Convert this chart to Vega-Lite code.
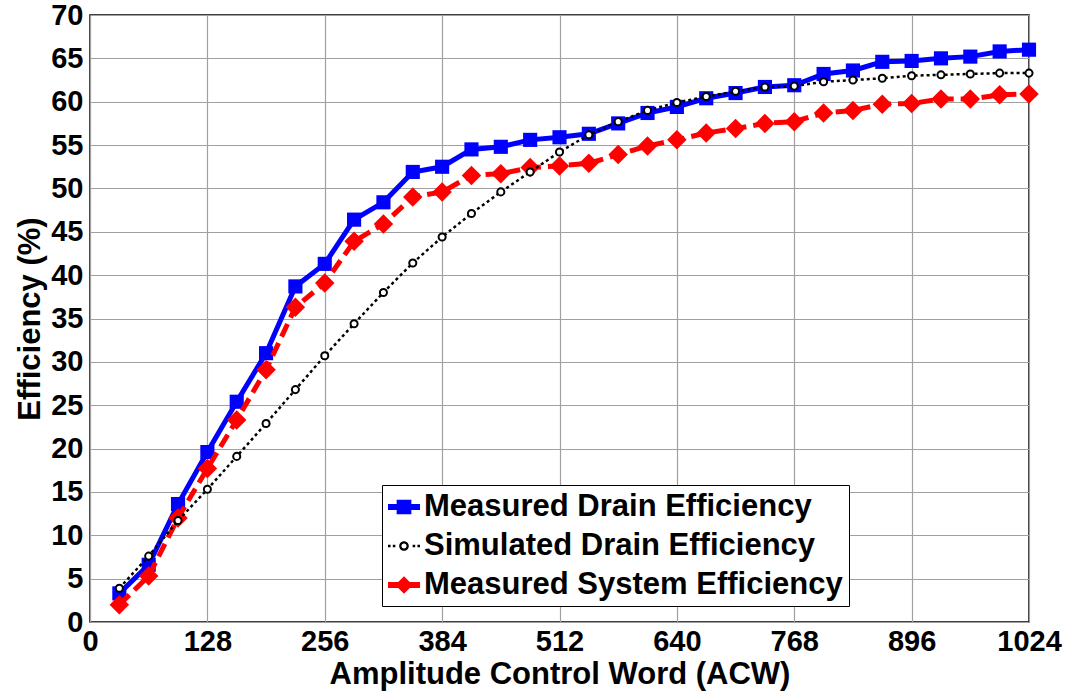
{
  "$schema": "https://vega.github.io/schema/vega-lite/v6.json",
  "width": 939,
  "height": 607,
  "autosize": {"type": "none"},
  "padding": {"left": 90, "top": 15, "right": 42, "bottom": 72},
  "background": "white",
  "config": {
    "view": {"stroke": "black", "strokeWidth": 1.5},
    "font": "Liberation Sans",
    "axis": {
      "labelFont": "Liberation Sans", "labelFontWeight": "bold", "labelFontSize": 29, "labelColor": "black",
      "titleFont": "Liberation Sans", "titleFontWeight": "bold", "titleFontSize": 31, "titleColor": "black",
      "grid": true, "gridColor": "#a0a0a0", "gridWidth": 1.2,
      "domain": false, "ticks": false
    }
  },
  "data": {"values": [
    {"acw": 32, "md": 3.3, "sd": 3.9, "ms": 2.0},
    {"acw": 64, "md": 6.6, "sd": 7.6, "ms": 5.3},
    {"acw": 96, "md": 13.6, "sd": 11.7, "ms": 12.0},
    {"acw": 128, "md": 19.6, "sd": 15.3, "ms": 17.7},
    {"acw": 160, "md": 25.4, "sd": 19.1, "ms": 23.3},
    {"acw": 192, "md": 31.0, "sd": 22.9, "ms": 29.1},
    {"acw": 224, "md": 38.7, "sd": 26.8, "ms": 36.3},
    {"acw": 256, "md": 41.3, "sd": 30.7, "ms": 39.1},
    {"acw": 288, "md": 46.4, "sd": 34.4, "ms": 43.9},
    {"acw": 320, "md": 48.4, "sd": 38.0, "ms": 45.9},
    {"acw": 352, "md": 51.9, "sd": 41.4, "ms": 49.0},
    {"acw": 384, "md": 52.5, "sd": 44.4, "ms": 49.6},
    {"acw": 416, "md": 54.5, "sd": 47.1, "ms": 51.5},
    {"acw": 448, "md": 54.8, "sd": 49.6, "ms": 51.7},
    {"acw": 480, "md": 55.6, "sd": 51.9, "ms": 52.4},
    {"acw": 512, "md": 55.9, "sd": 54.2, "ms": 52.6},
    {"acw": 544, "md": 56.3, "sd": 56.2, "ms": 52.9},
    {"acw": 576, "md": 57.5, "sd": 57.7, "ms": 53.9},
    {"acw": 608, "md": 58.7, "sd": 59.0, "ms": 54.9},
    {"acw": 640, "md": 59.4, "sd": 59.9, "ms": 55.6},
    {"acw": 672, "md": 60.4, "sd": 60.6, "ms": 56.4},
    {"acw": 704, "md": 61.0, "sd": 61.2, "ms": 56.9},
    {"acw": 736, "md": 61.7, "sd": 61.7, "ms": 57.5},
    {"acw": 768, "md": 61.9, "sd": 61.8, "ms": 57.7},
    {"acw": 800, "md": 63.2, "sd": 62.3, "ms": 58.7},
    {"acw": 832, "md": 63.6, "sd": 62.5, "ms": 59.0},
    {"acw": 864, "md": 64.6, "sd": 62.7, "ms": 59.7},
    {"acw": 896, "md": 64.7, "sd": 63.0, "ms": 59.8},
    {"acw": 928, "md": 65.0, "sd": 63.1, "ms": 60.3},
    {"acw": 960, "md": 65.2, "sd": 63.2, "ms": 60.3},
    {"acw": 992, "md": 65.8, "sd": 63.3, "ms": 60.8},
    {"acw": 1024, "md": 66.0, "sd": 63.3, "ms": 60.9}
  ]},
  "transform": [{"fold": ["md", "sd", "ms"], "as": ["key", "eff"]}],
  "encoding": {
    "x": {"field": "acw", "type": "quantitative",
      "scale": {"domain": [0, 1024], "nice": false, "zero": false},
      "axis": {"values": [0, 128, 256, 384, 512, 640, 768, 896, 1024], "format": "d", "title": "Amplitude Control Word (ACW)", "labelPadding": 5, "titlePadding": 3, "labelFlush": false, "labelOverlap": false}},
    "y": {"field": "eff", "type": "quantitative",
      "scale": {"domain": [0, 70], "nice": false},
      "axis": {"values": [0, 5, 10, 15, 20, 25, 30, 35, 40, 45, 50, 55, 60, 65, 70], "title": "Efficiency (%)", "labelPadding": 7, "titlePadding": 4, "labelFlush": false, "labelOverlap": false}}
  },
  "layer": [
    {"transform": [{"filter": "datum.key == 'md'"}],
     "mark": {"type": "line", "color": "#0000ff", "strokeWidth": 5}},
    {"transform": [{"filter": "datum.key == 'md'"}],
     "mark": {"type": "point", "shape": "square", "filled": true, "color": "#0000ff", "size": 200, "opacity": 1}},
    {"transform": [{"filter": "datum.key == 'ms'"}],
     "mark": {"type": "line", "color": "#ff0000", "strokeWidth": 5, "strokeDash": [14, 7]}},
    {"transform": [{"filter": "datum.key == 'ms'"}],
     "mark": {"type": "point", "shape": "diamond", "filled": true, "color": "#ff0000", "size": 380, "opacity": 1}},
    {"transform": [{"filter": "datum.key == 'sd'"}],
     "mark": {"type": "line", "color": "black", "strokeWidth": 2.5, "strokeDash": [3, 3]}},
    {"transform": [{"filter": "datum.key == 'sd'"}],
     "mark": {"type": "point", "shape": "circle", "filled": true, "fill": "white", "stroke": "black", "strokeWidth": 2, "size": 50, "opacity": 1}},
    {"transform": [{"filter": "datum.acw < 0"}],
     "mark": {"type": "point", "filled": true},
     "encoding": {
       "fill": {"field": "key", "type": "nominal",
         "scale": {"domain": ["md", "sd", "ms"], "range": ["#0000ff", "black", "#ff0000"]},
         "legend": {"title": null}},
       "shape": {"field": "key", "type": "nominal",
         "scale": {"domain": ["md", "sd", "ms"], "range": [
           "M-1,-0.18H1V0.18H-1Z M-0.46,-0.46H0.46V0.46H-0.46Z",
           "M-1,-0.08H-0.84V0.08H-1Z M-0.7,-0.08H-0.54V0.08H-0.7Z M0.54,-0.08H0.7V0.08H0.54Z M0.84,-0.08H1V0.08H0.84Z M0.3,0A0.3,0.3 0 1,1 -0.3,0A0.3,0.3 0 1,1 0.3,0Z M0.16,0A0.16,0.16 0 1,0 -0.16,0A0.16,0.16 0 1,0 0.16,0Z",
           "M-1,-0.18H1V0.18H-1Z M0,-0.55L0.55,0L0,0.55L-0.55,0Z"
         ]},
         "legend": {
           "title": null, "orient": "none", "legendX": 292, "legendY": 470, "direction": "vertical",
           "fillColor": "white", "strokeColor": "black", "padding": 6,
           "labelFont": "Liberation Sans", "labelFontWeight": "bold", "labelFontSize": 31, "labelColor": "black",
           "labelLimit": 700, "labelOffset": 4, "rowPadding": 8,
           "symbolSize": 1024, "symbolStrokeWidth": 0, "symbolOpacity": 1,
           "labelExpr": "datum.value == 'md' ? 'Measured Drain Efficiency' : datum.value == 'sd' ? 'Simulated Drain Efficiency' : 'Measured System Efficiency'"
         }}
     }}
  ]
}
